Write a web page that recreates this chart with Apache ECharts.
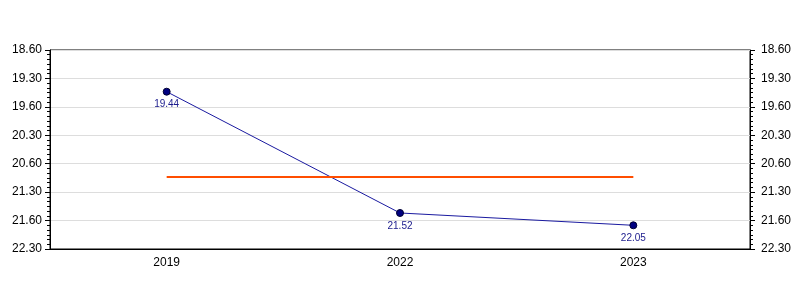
<!DOCTYPE html>
<html>
<head>
<meta charset="utf-8">
<script src="https://cdn.jsdelivr.net/npm/echarts@6/dist/echarts.min.js"></script>
<style>html,body{margin:0;padding:0;background:#fff}#c{width:800px;height:300px}</style>
</head>
<body>
<div id="c"></div>
<script>
var categories = ['2019', '2022', '2023'];
var timeLabels = ['19.44', '21.52', '22.05'];   // mm.ss values as shown
var yTickLabels = ['18.60', '19.30', '19.60', '20.30', '20.60', '21.30', '21.60', '22.30'];
var yMinSec = 1140, yMaxSec = 1350, yStepSec = 30;

function toSec(s) { var p = s.split('.'); return parseInt(p[0], 10) * 60 + parseInt(p[1], 10); }
var values = timeLabels.map(toSec);
var meanVal = values.reduce(function (a, b) { return a + b; }, 0) / values.length;

function yFmt(v) {
  var i = Math.round((v - yMinSec) / yStepSec);
  return yTickLabels[i] !== undefined ? yTickLabels[i] : '';
}

var font = 'Liberation Sans, Arial, sans-serif';
var yAxisBase = {
  type: 'value', inverse: true, min: yMinSec, max: yMaxSec, interval: yStepSec,
  axisLine: { show: true, lineStyle: { color: '#000', width: 1 } },
  axisTick: { show: true, inside: false, length: 5, lineStyle: { color: '#000' } },
  minorTick: { show: true, splitNumber: 6, length: 3, lineStyle: { color: '#000' } },
  axisLabel: { formatter: yFmt, color: '#000', fontSize: 12, fontFamily: font }
};

var chart = echarts.init(document.getElementById('c'), null, { renderer: 'canvas' });
chart.setOption({
  animation: false,
  backgroundColor: '#fff',
  grid: { left: 50, right: 50, top: 50, bottom: 51, containLabel: false,
          show: true, borderColor: '#000', borderWidth: 1, backgroundColor: 'transparent' },
  xAxis: {
    type: 'category', data: categories, boundaryGap: true,
    axisLine: { lineStyle: { color: '#000', width: 1 } },
    axisTick: { alignWithLabel: true, length: 5, lineStyle: { color: '#000' } },
    axisLabel: { color: '#000', fontSize: 12, fontFamily: font, margin: 8 },
    splitLine: { show: false }
  },
  yAxis: [
    Object.assign({}, yAxisBase, {
      position: 'left',
      axisLabel: Object.assign({}, yAxisBase.axisLabel, { margin: 8 }),
      splitLine: { show: true, lineStyle: { color: '#dddddd', width: 1 } }
    }),
    Object.assign({}, yAxisBase, {
      position: 'right',
      axisLabel: Object.assign({}, yAxisBase.axisLabel, { margin: 11 }),
      splitLine: { show: false }
    })
  ],
  series: [{
    type: 'line',
    yAxisIndex: 0,
    data: values,
    symbol: 'circle',
    symbolSize: 7,
    lineStyle: { color: '#1a1aa0', width: 1 },
    itemStyle: { color: '#000080', borderColor: '#000033', borderWidth: 1 },
    label: {
      show: true, position: 'bottom', distance: 4,
      formatter: function (p) { return timeLabels[p.dataIndex]; },
      color: '#1a1a8c', fontSize: 10, fontFamily: font
    },
    markLine: {
      silent: true,
      symbol: ['none', 'none'],
      label: { show: false },
      lineStyle: { color: '#ff4d00', width: 2, type: 'solid' },
      data: [[
        { coord: [0, meanVal] },
        { coord: [categories.length - 1, meanVal] }
      ]]
    }
  }]
});
</script>
</body>
</html>
